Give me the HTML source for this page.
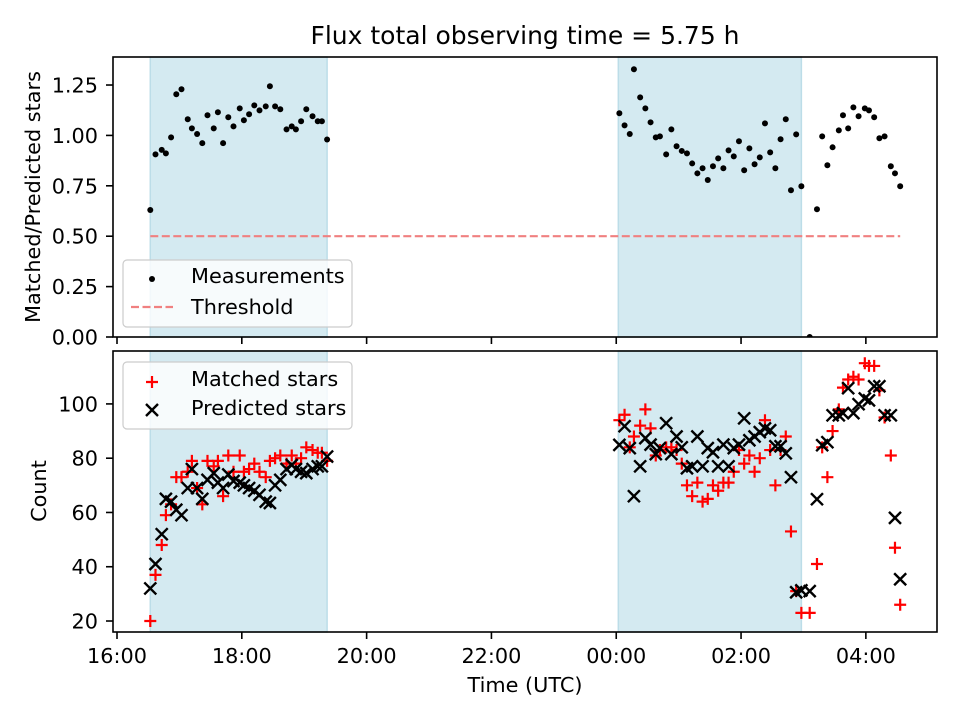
<!DOCTYPE html>
<html><head><meta charset="utf-8"><style>
body{margin:0;background:#fff}
svg{display:block;font-family:"DejaVu Sans","Liberation Sans",sans-serif}
</style></head><body>
<svg id="chart" width="960" height="720"></svg>
<script>
// minutes since 16:00 UTC
const times1 = [32,37,43,47,52,57,62,68,72,77,82,87,93,97,102,107,112,118,122,127,132,137,143,147,152,157,163,168,172,177,182,188,193,197,202];
const ratio1 = [0.63,0.906,0.928,0.911,0.99,1.204,1.229,1.08,1.035,1.007,0.962,1.1,1.035,1.115,0.962,1.09,1.045,1.134,1.075,1.105,1.149,1.124,1.144,1.244,1.144,1.13,1.03,1.045,1.03,1.07,1.13,1.095,1.07,1.07,0.98];
const pred1 = [32,41,52,65,64,61,59,69,76,69,65,72,74.5,71,69,74,71.6,71,70,69,68,66.5,64,63.5,70,72,76,77.5,76,75,74.5,76,77,77,80.6];
const match1 = [20,37,48,59,63,73,73,75,79,69,63,79,77,79,66,81,75,81,75,76,78,75,73,79,80,81,78,81,78,80,84,83,82,82,79];
const times2 = [483,488,493,497,503,508,513,518,522,528,533,538,543,548,553,558,563,568,573,578,583,588,593,598,603,608,613,618,623,628,633,638,643,648,653,658,666,673,678,683,688,694,698,703,708,713,719,723,728,733,738,744,748,753];
const ratio2 = [1.11,1.05,1.007,1.328,1.189,1.134,1.065,0.99,0.995,0.906,1.03,0.946,0.923,0.911,0.861,0.812,0.837,0.779,0.847,0.886,0.837,0.926,0.896,0.971,0.827,0.936,0.857,0.891,1.06,0.916,0.837,0.981,1.08,0.728,1.005,0.748,0.0,0.634,0.995,0.852,0.941,1.025,1.1,1.035,1.139,1.095,1.134,1.124,1.09,0.986,0.995,0.847,0.812,0.748];
const pred2 = [84.9,91.8,83.7,66,77,87.4,85,81.5,83.7,92.9,81.5,88,84,76.3,77,88,77,83.7,82.2,77,85,77,83.7,85,94.7,86.6,88,89.6,91,90.3,84.4,84.4,81.8,73,30.6,31.3,31,64.9,84.8,85.9,95.8,95.8,96.6,105.8,96.6,99.9,102,101.3,106.5,106.5,95.8,95.8,58,35.4];
const match2 = [94,96,84,88,92,98,91,81,83,84,84,83,78,70,66,71,64,65,70,68,71,71,75,83,78,81,75,80,94,83,70,83,88,53,31,23,23,41,84,73,90,98,106,109,110,109,115,114,114,105,95,81,47,26];
const xTicks = [0,120,240,360,480,600,720];
const xTickLabels = ["16:00","18:00","20:00","22:00","00:00","02:00","04:00"];
const yTicksTop = [0,0.25,0.5,0.75,1.0,1.25];
const yTickLabelsTop = ["0.00","0.25","0.50","0.75","1.00","1.25"];
const yTicksBot = [20,40,60,80,100];
const shadeSpans = [[32,202],[482,658]];
const threshold = 0.5;

const NS="http://www.w3.org/2000/svg";
const svg=document.getElementById('chart');
const L=113,R=937,T1=57,B1=337,T2=351,B2=632;
const xMin=-3.85,xMax=788.4;
const FS=20.8;
const X=m=>L+(m-xMin)/(xMax-xMin)*(R-L);
const Y1=v=>B1-v/1.389*(B1-T1);
const Y2=v=>B2-(v-15.95)/(119.5-15.95)*(B2-T2);
function mk(tag,attrs,parent){const e=document.createElementNS(NS,tag);for(const k in attrs)e.setAttribute(k,attrs[k]);(parent||svg).appendChild(e);return e;}

function panel(T,B,name){
  const g=mk('g',{});
  
  
  const clip=mk('clipPath',{id:'c'+name});mk('rect',{x:L,y:T,width:R-L,height:B-T},clip);
  shadeSpans.forEach((s,i)=>{
    const r=mk('rect',{x:X(s[0]),y:T,width:X(s[1])-X(s[0]),height:B-T,fill:'#d4eaf1',stroke:'#bcdde8','stroke-width':1.5},g);
    
    
  });
  return g;
}
const gTop=panel(T1,B1,'top-panel');
const gBot=panel(T2,B2,'bottom-panel');

const th=mk('line',{x1:X(times1[0]),x2:X(times2[times2.length-1]),y1:Y1(threshold),y2:Y1(threshold),stroke:'#f08080','stroke-width':2.2,'stroke-dasharray':'8,3.5'},gTop);



const dT=mk('g',{'clip-path':'url(#ctop-panel)'},gTop);
function dot(t,v){const c=mk('circle',{cx:X(t),cy:Y1(v),r:3,fill:'#000'},dT);

}
times1.forEach((t,i)=>dot(t,ratio1[i]));
times2.forEach((t,i)=>dot(t,ratio2[i]));

const dB=mk('g',{'clip-path':'url(#cbottom-panel)'},gBot);
function plus(t,v){const x=X(t),y=Y2(v);const p=mk('path',{d:`M${x-6},${y}H${x+6}M${x},${y-6}V${y+6}`,stroke:'#f00','stroke-width':2.2,fill:'none'},dB);

}
function cross(t,v){const x=X(t),y=Y2(v);const p=mk('path',{d:`M${x-6},${y-6}L${x+6},${y+6}M${x-6},${y+6}L${x+6},${y-6}`,stroke:'#000','stroke-width':2.4,fill:'none'},dB);

}
times1.forEach((t,i)=>plus(t,match1[i]));
times2.forEach((t,i)=>plus(t,match2[i]));
times1.forEach((t,i)=>cross(t,pred1[i]));
times2.forEach((t,i)=>cross(t,pred2[i]));

function txt(s,attrs,name){const e=mk('text',attrs);e.textContent=s;

return e;}

[[T1,B1],[T2,B2]].forEach(([T,B],pi)=>{
  mk('rect',{x:L,y:T,width:R-L,height:B-T,fill:'none',stroke:'#000','stroke-width':1.6});
  xTicks.forEach((m,i)=>{
    mk('line',{x1:X(m),x2:X(m),y1:B,y2:B+7,stroke:'#000','stroke-width':1.6});
    if(pi===1) txt(xTickLabels[i],{x:X(m),y:B+31,'font-size':FS,'text-anchor':'middle'},'x-tick-label');
  });
});
yTicksTop.forEach((v,i)=>{mk('line',{x1:L-7,x2:L,y1:Y1(v),y2:Y1(v),stroke:'#000','stroke-width':1.6});
  txt(yTickLabelsTop[i],{x:L-15,y:Y1(v)+7.5,'font-size':FS,'text-anchor':'end'},'y-tick-label-top');});
yTicksBot.forEach(v=>{mk('line',{x1:L-7,x2:L,y1:Y2(v),y2:Y2(v),stroke:'#000','stroke-width':1.6});
  txt(String(v),{x:L-15,y:Y2(v)+7.5,'font-size':FS,'text-anchor':'end'},'y-tick-label-bottom');});

txt('Flux total observing time = 5.75 h',{x:525,y:44,'font-size':25,'text-anchor':'middle'},'chart-title');
txt('Time (UTC)',{x:525,y:692,'font-size':FS,'text-anchor':'middle'},'x-axis-title');
txt('Matched/Predicted stars',{x:0,y:0,'font-size':FS,'text-anchor':'middle',transform:'translate(40,197) rotate(-90)'},'y-axis-title-top');
txt('Count',{x:0,y:0,'font-size':FS,'text-anchor':'middle',transform:'translate(46,491) rotate(-90)'},'y-axis-title-bottom');

function legend(y,name){const r=mk('rect',{x:123,y:y,width:229,height:67,rx:4,fill:'rgba(255,255,255,0.8)',stroke:'#ccc','stroke-width':1.2});

}
legend(260,'legend-top');
mk('circle',{cx:152,cy:279,r:3,fill:'#000'});
txt('Measurements',{x:191,y:283,'font-size':FS},'legend-entry-measurements');
mk('line',{x1:131,x2:173,y1:307,y2:307,stroke:'#f08080','stroke-width':2.2,'stroke-dasharray':'8,3.5'});
txt('Threshold',{x:191,y:314,'font-size':FS},'legend-entry-threshold');
legend(362,'legend-bottom');
mk('path',{d:'M146,382H158M152,376V388',stroke:'#f00','stroke-width':2.2});
txt('Matched stars',{x:191,y:386,'font-size':FS},'legend-entry-matched');
mk('path',{d:'M146,404L158,416M146,416L158,404',stroke:'#000','stroke-width':2.4});
txt('Predicted stars',{x:191,y:415,'font-size':FS},'legend-entry-predicted');
</script>
</body></html>
